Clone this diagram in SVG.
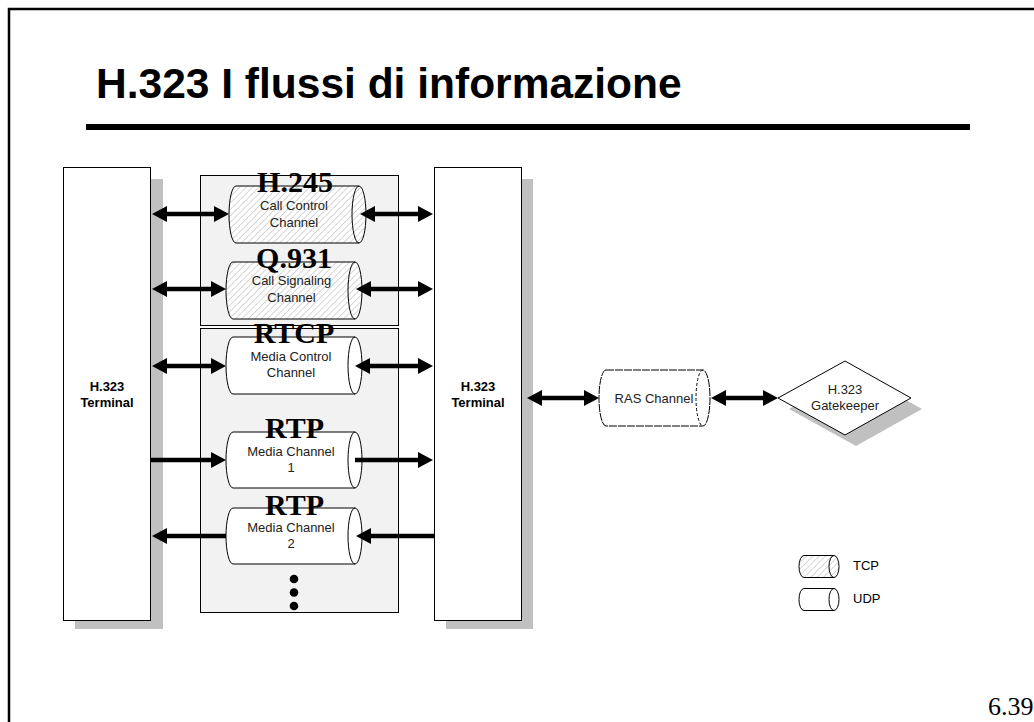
<svg xmlns="http://www.w3.org/2000/svg" width="1034" height="722" viewBox="0 0 1034 722">
<style>
.frame{fill:none;stroke:#000;stroke-width:2.5}
.title{font-family:"Liberation Sans",Arial,sans-serif;font-weight:bold;font-size:42.5px;fill:#000}
.term{fill:#fff;stroke:#000;stroke-width:1}
.shadow{fill:#c0c0c0}
.panel{fill:#f2f2f2;stroke:#000;stroke-width:1}
.cyl{fill:#fff;stroke:#000;stroke-width:1}
.tcp{fill:url(#hatch);stroke:#000;stroke-width:1}
.inner{fill:none;stroke:#000;stroke-width:1}
.lbl{font-family:"Liberation Sans",Arial,sans-serif;font-size:13px;fill:#222;text-anchor:middle}
.blbl{font-family:"Liberation Sans",Arial,sans-serif;font-size:13px;font-weight:bold;fill:#000;text-anchor:middle}
.proto{font-family:"Liberation Serif","Times New Roman",serif;font-size:30px;font-weight:bold;fill:#000;text-anchor:middle}
.arr{stroke:#000;stroke-width:4.5;fill:none}
.leg{font-family:"Liberation Sans",Arial,sans-serif;font-size:13px;fill:#000}
.page{font-family:"Liberation Serif","Times New Roman",serif;font-size:26px;fill:#000}
</style>
<defs>
<pattern id="hatch" patternUnits="userSpaceOnUse" width="4.5" height="4.5" patternTransform="rotate(45)">
<rect width="4.5" height="4.5" fill="#fff"/>
<line x1="0" y1="0" x2="0" y2="4.5" stroke="#9a9a9a" stroke-width="0.8"/>
</pattern>
<marker id="ah" markerUnits="userSpaceOnUse" markerWidth="16" markerHeight="18" viewBox="0 -9 16 18" refX="5" refY="0" orient="auto-start-reverse">
<path d="M0,-8 L15,0 L0,8 z" fill="#000"/>
</marker>
</defs>

<rect class="frame" x="9" y="9" width="1040" height="730"/>
<text class="title" x="96" y="98">H.323 I flussi di informazione</text>
<rect x="86" y="124" width="884" height="6" fill="#000"/>

<g id="terminal-left">
<rect class="shadow" x="75" y="179" width="88" height="450"/>
<rect class="term" x="63.5" y="167.5" width="87" height="453"/>
<text class="blbl" x="107" y="391">H.323</text>
<text class="blbl" x="107" y="407">Terminal</text>
</g>

<g id="terminal-right">
<rect class="shadow" x="446" y="179" width="87" height="450"/>
<rect class="term" x="434.5" y="167.5" width="87" height="453"/>
<text class="blbl" x="478" y="391">H.323</text>
<text class="blbl" x="478" y="407">Terminal</text>
</g>

<g id="panel-tcp">
<rect class="panel" x="200.5" y="175.5" width="198" height="150"/>
</g>
<g id="panel-udp">
<rect class="panel" x="200.5" y="328.5" width="198" height="284"/>
<circle cx="294" cy="579" r="4.3" fill="#000"/>
<circle cx="294" cy="592.5" r="4.3" fill="#000"/>
<circle cx="294" cy="606" r="4.3" fill="#000"/>
</g>

<g id="cyl-h245">
<path class="tcp" d="M236,186 L359,186 A7,28.5 0 0 1 359,243 L236,243 A7,28.5 0 0 1 236,186 Z"/>
<path class="inner" d="M359,186 A7,28.5 0 0 0 359,243"/>
<text class="proto" x="295" y="192">H.245</text>
<text class="lbl" x="294" y="210">Call Control</text>
<text class="lbl" x="294" y="227">Channel</text>
</g>

<g id="cyl-q931">
<path class="tcp" d="M233,262 L355,262 A7,28.5 0 0 1 355,319 L233,319 A7,28.5 0 0 1 233,262 Z"/>
<path class="inner" d="M355,262 A7,28.5 0 0 0 355,319"/>
<text class="proto" x="294" y="268">Q.931</text>
<text class="lbl" x="291.5" y="285">Call Signaling</text>
<text class="lbl" x="291.5" y="302">Channel</text>
</g>

<g id="cyl-rtcp">
<path class="cyl" d="M233,337 L355,337 A7,28.5 0 0 1 355,394 L233,394 A7,28.5 0 0 1 233,337 Z"/>
<path class="inner" d="M355,337 A7,28.5 0 0 0 355,394"/>
<text class="proto" x="294" y="343">RTCP</text>
<text class="lbl" x="291" y="361">Media Control</text>
<text class="lbl" x="291" y="377">Channel</text>
</g>

<g id="cyl-rtp1">
<path class="cyl" d="M233,432 L355,432 A7,28 0 0 1 355,488 L233,488 A7,28 0 0 1 233,432 Z"/>
<path class="inner" d="M355,432 A7,28 0 0 0 355,488"/>
<text class="proto" x="294.5" y="438">RTP</text>
<text class="lbl" x="291" y="456">Media Channel</text>
<text class="lbl" x="291" y="472">1</text>
</g>

<g id="cyl-rtp2">
<path class="cyl" d="M233,508 L355,508 A7,28 0 0 1 355,564 L233,564 A7,28 0 0 1 233,508 Z"/>
<path class="inner" d="M355,508 A7,28 0 0 0 355,564"/>
<text class="proto" x="294.5" y="515">RTP</text>
<text class="lbl" x="291" y="532">Media Channel</text>
<text class="lbl" x="291" y="548">2</text>
</g>

<g id="cyl-ras">
<path class="cyl" stroke-dasharray="8,1" d="M606,370 L703,370 A7,28 0 0 1 703,426 L606,426 A7,28 0 0 1 606,370 Z"/>
<path class="inner" stroke-dasharray="3,2" d="M703,370 A7,28 0 0 0 703,426"/>
<text class="lbl" x="654" y="403">RAS Channel</text>
</g>

<g id="gatekeeper">
<polygon points="856,372 922,409 856,446 789,409" fill="#c0c0c0"/>
<polygon points="845,361 911,398 845,435 778,398" fill="#fff" stroke="#000" stroke-width="1"/>
<text class="lbl" x="845" y="394">H.323</text>
<text class="lbl" x="845" y="410">Gatekeeper</text>
</g>

<g id="legend">
<path class="tcp" d="M804,555.5 L834,555.5 A5,11 0 0 1 834,577.5 L804,577.5 A5,11 0 0 1 804,555.5 Z"/>
<path class="inner" d="M834,555.5 A5,11 0 0 0 834,577.5"/>
<text class="leg" x="853" y="570">TCP</text>
<path class="cyl" d="M804,588.5 L834,588.5 A5,11 0 0 1 834,610.5 L804,610.5 A5,11 0 0 1 804,588.5 Z"/>
<path class="inner" d="M834,588.5 A5,11 0 0 0 834,610.5"/>
<text class="leg" x="853" y="603">UDP</text>
</g>

<g id="connectors">
<line class="arr" x1="162" y1="214" x2="219" y2="214" marker-start="url(#ah)" marker-end="url(#ah)"/>
<line class="arr" x1="162" y1="289" x2="216" y2="289" marker-start="url(#ah)" marker-end="url(#ah)"/>
<line class="arr" x1="162" y1="366" x2="216" y2="366" marker-start="url(#ah)" marker-end="url(#ah)"/>
<line class="arr" x1="151" y1="460" x2="216" y2="460" marker-end="url(#ah)"/>
<line class="arr" x1="162" y1="536" x2="226" y2="536" marker-start="url(#ah)"/>
<line class="arr" x1="370" y1="214" x2="423" y2="214" marker-start="url(#ah)" marker-end="url(#ah)"/>
<line class="arr" x1="366" y1="289" x2="423" y2="289" marker-start="url(#ah)" marker-end="url(#ah)"/>
<line class="arr" x1="365" y1="366" x2="423" y2="366" marker-start="url(#ah)" marker-end="url(#ah)"/>
<line class="arr" x1="355" y1="460" x2="423" y2="460" marker-end="url(#ah)"/>
<line class="arr" x1="434" y1="536" x2="366" y2="536" marker-end="url(#ah)"/>
<line class="arr" x1="537" y1="398" x2="589" y2="398" marker-start="url(#ah)" marker-end="url(#ah)"/>
<line class="arr" x1="721" y1="398" x2="768" y2="398" marker-start="url(#ah)" marker-end="url(#ah)"/>
</g>

<text class="page" x="988" y="715">6.39</text>
</svg>
